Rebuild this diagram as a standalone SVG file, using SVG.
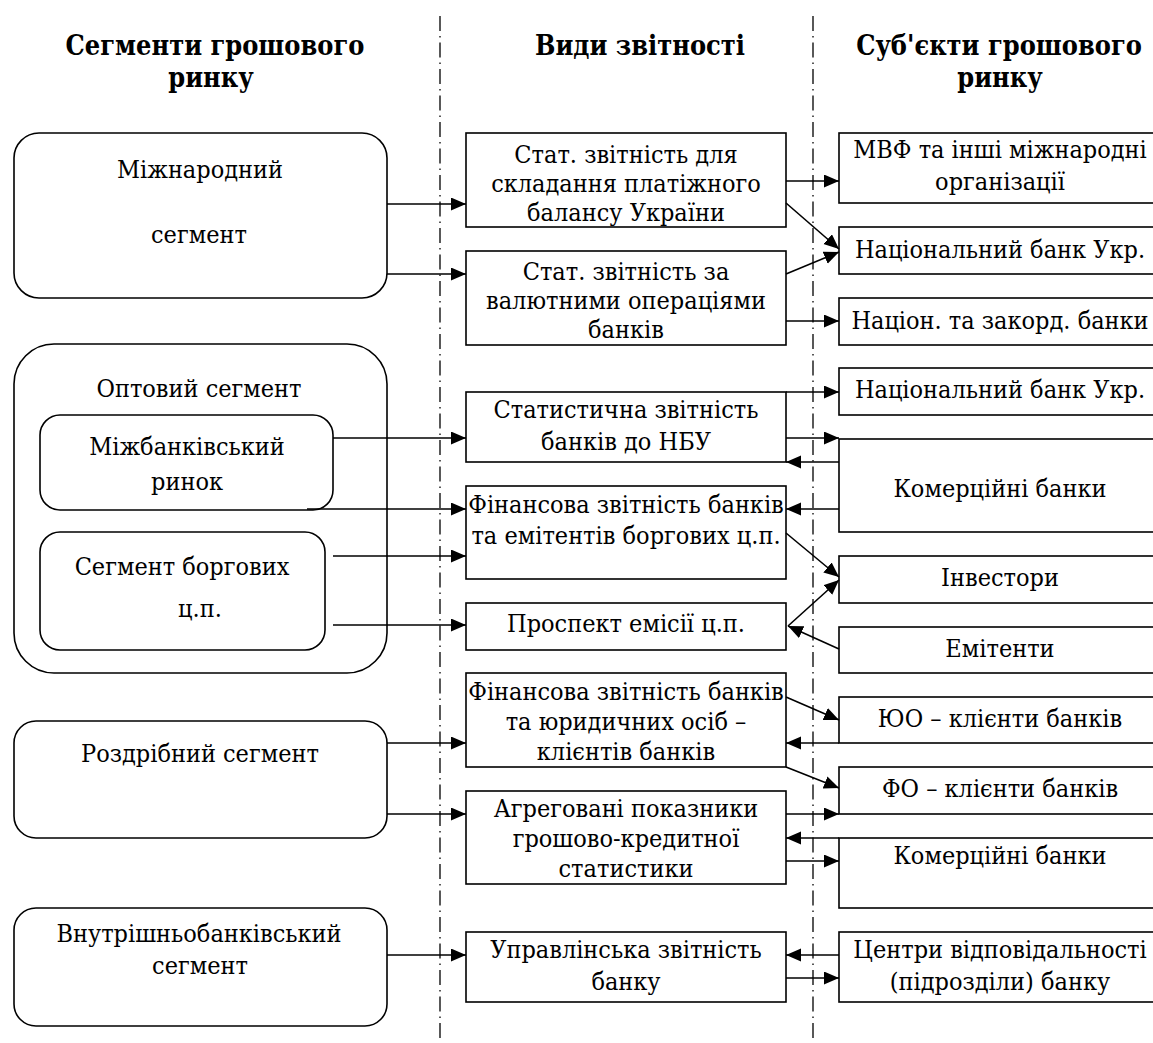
<svg xmlns="http://www.w3.org/2000/svg" width="1153" height="1043" viewBox="0 0 1153 1043">
<style>
text{font-family:"DejaVu Serif",serif;font-size:25px;fill:#000;text-anchor:middle;transform-box:fill-box;transform-origin:center;transform:scaleX(0.9)}
.h{font-weight:bold;font-size:27.5px;transform:scaleX(0.88)}
.box{fill:#fff;stroke:#000;stroke-width:1.6}
.div{stroke:#000;stroke-width:1.3;stroke-dasharray:15 5 1.5 5;fill:none}
.c{stroke:#000;stroke-width:1.6;fill:none;marker-end:url(#ah)}
</style>
<defs>
<marker id="ah" markerUnits="userSpaceOnUse" markerWidth="16" markerHeight="14" refX="15" refY="6.5" orient="auto">
<path d="M0,0 L15,6.5 L0,13 z" fill="#000"/>
</marker>
</defs>
<rect width="1153" height="1043" fill="#fff"/>
<g id="dividers">
<line class="div" x1="440" y1="16" x2="440" y2="1043"/>
<line class="div" x1="813" y1="16" x2="813" y2="1043"/>
</g>
<g id="headers">
<text class="h" x="215" y="55">Сегменти грошового</text>
<text class="h" x="211" y="87">ринку</text>
<text class="h" x="640" y="55">Види звітності</text>
<text class="h" x="999" y="55">Суб'єкти грошового</text>
<text class="h" x="1000" y="87">ринку</text>
</g>
<g id="seg-international">
<rect class="box" x="14" y="133" width="373" height="165" rx="25"/>
<text x="200" y="178">Міжнародний</text>
<text x="199" y="243">сегмент</text>
</g>
<g id="seg-wholesale">
<rect class="box" x="14" y="344" width="373" height="329" rx="40"/>
<text x="199" y="397">Оптовий сегмент</text>
</g>
<g id="seg-interbank">
<rect class="box" x="40" y="415" width="293" height="95" rx="20"/>
<text x="187" y="455">Міжбанківський</text>
<text x="187" y="490">ринок</text>
</g>
<g id="seg-debt">
<rect class="box" x="40" y="532" width="285" height="118" rx="20"/>
<text x="182" y="575">Сегмент боргових</text>
<text x="200" y="617">ц.п.</text>
</g>
<g id="seg-retail">
<rect class="box" x="14" y="721" width="373" height="117" rx="22"/>
<text x="200" y="762">Роздрібний сегмент</text>
</g>
<g id="seg-intrabank">
<rect class="box" x="14" y="908" width="373" height="118" rx="22"/>
<text x="199" y="942">Внутрішньобанківський</text>
<text x="200" y="974">сегмент</text>
</g>
<g id="rep-balance">
<rect class="box" x="466" y="133" width="320" height="94"/>
<text x="626" y="163">Стат. звітність для</text>
<text x="626" y="192">складання платіжного</text>
<text x="626" y="221">балансу України</text>
</g>
<g id="rep-currency">
<rect class="box" x="466" y="251" width="320" height="94"/>
<text x="626" y="280">Стат. звітність за</text>
<text x="626" y="309">валютними операціями</text>
<text x="626" y="338">банків</text>
</g>
<g id="rep-stat-nbu">
<rect class="box" x="466" y="392" width="320" height="70"/>
<text x="626" y="418">Статистична звітність</text>
<text x="626" y="450">банків до НБУ</text>
</g>
<g id="rep-fin-issuers">
<rect class="box" x="466" y="486" width="320" height="93"/>
<text x="626" y="513">Фінансова звітність банків</text>
<text x="626" y="544">та емітентів боргових ц.п.</text>
</g>
<g id="rep-prospectus">
<rect class="box" x="466" y="603" width="320" height="47"/>
<text x="626" y="632">Проспект емісії ц.п.</text>
</g>
<g id="rep-fin-legal">
<rect class="box" x="466" y="673" width="320" height="94"/>
<text x="626" y="700">Фінансова звітність банків</text>
<text x="626" y="730">та юридичних осіб –</text>
<text x="626" y="760">клієнтів банків</text>
</g>
<g id="rep-aggregated">
<rect class="box" x="466" y="791" width="320" height="93"/>
<text x="626" y="817">Агреговані показники</text>
<text x="626" y="847">грошово-кредитної</text>
<text x="626" y="877">статистики</text>
</g>
<g id="rep-management">
<rect class="box" x="466" y="932" width="320" height="70"/>
<text x="626" y="958">Управлінська звітність</text>
<text x="626" y="990">банку</text>
</g>
<g id="sub-imf">
<rect class="box" x="839" y="133" width="330" height="70"/>
<text x="1000" y="158">МВФ та інші міжнародні</text>
<text x="1000" y="190">організації</text>
</g>
<g id="sub-nbu1">
<rect class="box" x="839" y="227" width="330" height="47"/>
<text x="1000" y="258">Національний банк Укр.</text>
</g>
<g id="sub-banks-nat">
<rect class="box" x="839" y="298" width="330" height="47"/>
<text x="1000" y="329">Націон. та закорд. банки</text>
</g>
<g id="sub-nbu2">
<rect class="box" x="839" y="368" width="330" height="47"/>
<text x="1000" y="398">Національний банк Укр.</text>
</g>
<g id="sub-commercial1">
<rect class="box" x="839" y="439" width="330" height="93"/>
<text x="1000" y="497">Комерційні банки</text>
</g>
<g id="sub-investors">
<rect class="box" x="839" y="556" width="330" height="47"/>
<text x="1000" y="586">Інвестори</text>
</g>
<g id="sub-issuers">
<rect class="box" x="839" y="627" width="330" height="46"/>
<text x="1000" y="657">Емітенти</text>
</g>
<g id="sub-legal">
<rect class="box" x="839" y="697" width="330" height="46"/>
<text x="1000" y="727">ЮО – клієнти банків</text>
</g>
<g id="sub-individuals">
<rect class="box" x="839" y="767" width="330" height="47"/>
<text x="1000" y="797">ФО – клієнти банків</text>
</g>
<g id="sub-commercial2">
<rect class="box" x="839" y="838" width="330" height="70"/>
<text x="1000" y="864">Комерційні банки</text>
</g>
<g id="sub-centers">
<rect class="box" x="839" y="932" width="330" height="70"/>
<text x="1000" y="958">Центри відповідальності</text>
<text x="1000" y="990">(підрозділи) банку</text>
</g>
<g id="connectors">
<line class="c" x1="387" y1="204" x2="466" y2="204"/>
<line class="c" x1="387" y1="274" x2="466" y2="274"/>
<line class="c" x1="333" y1="438" x2="466" y2="438"/>
<line class="c" x1="307" y1="509" x2="466" y2="509"/>
<line class="c" x1="333" y1="556" x2="466" y2="556"/>
<line class="c" x1="333" y1="625" x2="466" y2="625"/>
<line class="c" x1="387" y1="743" x2="466" y2="743"/>
<line class="c" x1="387" y1="814" x2="466" y2="814"/>
<line class="c" x1="387" y1="955" x2="466" y2="955"/>
<line class="c" x1="786" y1="181" x2="839" y2="181"/>
<line class="c" x1="786" y1="203" x2="839" y2="249"/>
<line class="c" x1="786" y1="274" x2="839" y2="252"/>
<line class="c" x1="786" y1="321" x2="839" y2="321"/>
<line class="c" x1="786" y1="392" x2="839" y2="392"/>
<line class="c" x1="786" y1="438" x2="839" y2="438"/>
<line class="c" x1="839" y1="462" x2="786" y2="462"/>
<line class="c" x1="839" y1="509" x2="786" y2="509"/>
<line class="c" x1="786" y1="533" x2="839" y2="577"/>
<line class="c" x1="788" y1="626" x2="839" y2="580"/>
<line class="c" x1="839" y1="649" x2="788" y2="626"/>
<line class="c" x1="786" y1="697" x2="839" y2="720"/>
<line class="c" x1="839" y1="743" x2="786" y2="743"/>
<line class="c" x1="786" y1="767" x2="839" y2="788"/>
<line class="c" x1="786" y1="814" x2="839" y2="814"/>
<line class="c" x1="839" y1="838" x2="786" y2="838"/>
<line class="c" x1="786" y1="861" x2="839" y2="861"/>
<line class="c" x1="839" y1="955" x2="786" y2="955"/>
<line class="c" x1="786" y1="978" x2="839" y2="978"/>
</g>
</svg>
